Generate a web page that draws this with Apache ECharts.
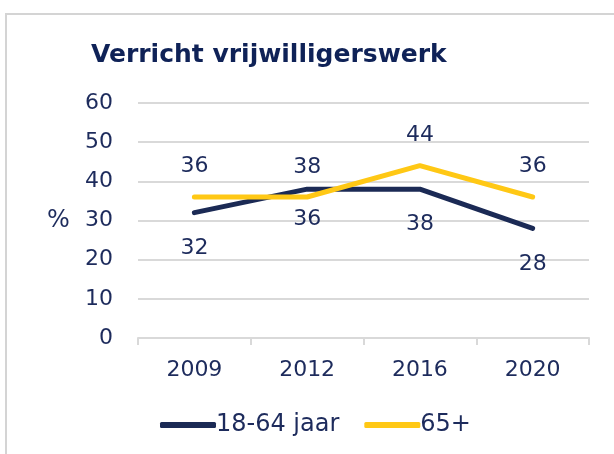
<!DOCTYPE html>
<html>
<head>
<meta charset="utf-8">
<script src="https://cdn.jsdelivr.net/npm/echarts@6/dist/echarts.min.js"></script>
<style>
  html, body { margin: 0; padding: 0; background: #fff; }
  #chart { width: 614px; height: 454px; }
</style>
</head>
<body>
<div id="chart"></div>
<script>
const years = ['2009', '2012', '2016', '2020'];
const young = [32, 38, 38, 28];
const old = [36, 36, 44, 36];
// where each value label sits relative to its point (2012 labels sit closer)
const youngLabelPos = ['bottom', 'top', 'bottom', 'bottom'];
const youngLabelGap = [24, 10, 24, 24];
const oldLabelPos = ['top', 'bottom', 'top', 'top'];
const oldLabelGap = [19, 11, 19, 19];

const navy = '#1b2a55';
const yellow = '#ffc815';
const textColor = '#1d2b5c';
const font = 'DejaVu Sans, Verdana, sans-serif';

function withLabels(values, positions, gaps) {
    return values.map((v, i) => ({
        value: v,
        label: {position: positions[i], distance: gaps[i]}
    }));
}

const chart = echarts.init(document.getElementById('chart'));
chart.setOption({
    animation: false,
    backgroundColor: '#fff',
    graphic: [{
        type: 'rect',
        shape: {x: 6, y: 14, width: 700, height: 500},
        style: {fill: 'none', stroke: '#d4d4d4', lineWidth: 2},
        silent: true
    }, {
        type: 'text',
        left: 47,
        top: 209,
        style: {text: '%', font: '24px ' + font, fill: textColor}
    }],
    title: {
        text: 'Verricht vrijwilligerswerk',
        left: 86,
        top: 38,
        textStyle: {fontFamily: font, fontSize: 25, fontWeight: 'bold', color: '#0f2257'}
    },
    grid: {left: 138, right: 25, top: 103, bottom: 116},
    xAxis: {
        type: 'category',
        data: years,
        boundaryGap: true,
        axisLine: {lineStyle: {color: '#d9d9d9', width: 2}},
        axisTick: {show: true, length: 7, lineStyle: {color: '#d9d9d9', width: 2}},
        axisLabel: {fontFamily: font, fontSize: 22, color: textColor, margin: 21}
    },
    yAxis: {
        type: 'value',
        min: 0,
        max: 60,
        interval: 10,
        axisLine: {show: false},
        axisTick: {show: false},
        splitLine: {lineStyle: {color: '#d9d9d9', width: 2}},
        axisLabel: {fontFamily: font, fontSize: 22, color: textColor, margin: 25}
    },
    legend: {
        bottom: 12,
        left: 155,
        itemWidth: 56,
        itemHeight: 6,
        itemGap: 25,
        icon: 'roundRect',
        textStyle: {fontFamily: font, fontSize: 24, color: textColor, padding: [0, 0, 0, -5]},
        data: ['18-64 jaar', '65+']
    },
    series: [{
        name: '18-64 jaar',
        type: 'line',
        data: withLabels(young, youngLabelPos, youngLabelGap),
        color: navy,
        lineStyle: {width: 5, color: navy, cap: 'round'},
        symbol: 'circle',
        symbolSize: 1,
        showSymbol: true,
        itemStyle: {color: navy},
        z: 2,
        label: {show: true, fontFamily: font, fontSize: 22, color: textColor}
    }, {
        name: '65+',
        type: 'line',
        data: withLabels(old, oldLabelPos, oldLabelGap),
        color: yellow,
        lineStyle: {width: 5, color: yellow, cap: 'round'},
        symbol: 'circle',
        symbolSize: 1,
        showSymbol: true,
        itemStyle: {color: yellow},
        z: 3,
        label: {show: true, fontFamily: font, fontSize: 22, color: textColor}
    }]
});
</script>
</body>
</html>
